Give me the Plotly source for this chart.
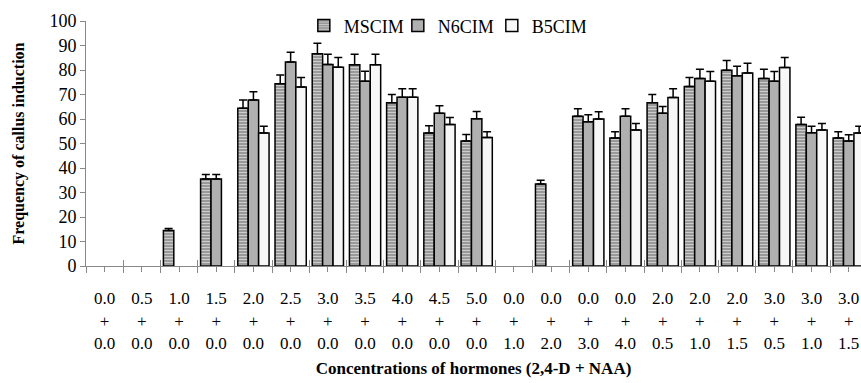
import plotly.graph_objects as go

categories = ["0.0<br>+<br>0.0", "0.5<br>+<br>0.0", "1.0<br>+<br>0.0", "1.5<br>+<br>0.0",
              "2.0<br>+<br>0.0", "2.5<br>+<br>0.0", "3.0<br>+<br>0.0", "3.5<br>+<br>0.0",
              "4.0<br>+<br>0.0", "4.5<br>+<br>0.0", "5.0<br>+<br>0.0", "0.0<br>+<br>1.0",
              "0.0<br>+<br>2.0", "0.0<br>+<br>3.0", "0.0<br>+<br>4.0", "2.0<br>+<br>0.5",
              "2.0<br>+<br>1.0", "2.0<br>+<br>1.5", "3.0<br>+<br>0.5", "3.0<br>+<br>1.0",
              "3.0<br>+<br>1.5"]

mscim = [0, 0, 14.5, 35.5, 64.4, 74.4, 86.6, 82.1, 66.6, 54.3, 51.0, 0, 33.5,
         61.1, 52.2, 66.6, 73.3, 79.9, 76.5, 57.8, 52.2]
mscim_err = [0, 0, 0.8, 1.8, 3.4, 3.6, 4.3, 4.3, 3.4, 2.9, 2.7, 0, 1.5,
             3.1, 2.6, 3.4, 3.6, 4.0, 3.8, 2.9, 2.6]
n6cim = [0, 0, 0, 35.5, 67.8, 83.3, 82.2, 75.4, 68.9, 62.3, 60.1, 0, 0,
         58.9, 61.1, 62.3, 76.5, 77.7, 75.4, 54.4, 51.0]
n6cim_err = [0, 0, 0, 1.8, 3.3, 3.9, 4.2, 4.1, 3.4, 3.1, 3.0, 0, 0,
             2.8, 3.1, 2.8, 3.8, 3.8, 4.0, 2.6, 2.6]
b5cim = [0, 0, 0, 0, 54.3, 73.1, 81.1, 82.1, 68.9, 57.8, 52.4, 0, 0,
         60.0, 55.5, 68.8, 75.4, 78.8, 81.0, 55.5, 54.3]
b5cim_err = [0, 0, 0, 0, 2.7, 3.8, 4.0, 4.3, 3.4, 2.8, 2.4, 0, 0,
             3.0, 2.7, 3.5, 4.0, 4.0, 4.1, 2.7, 2.7]

xs = list(range(len(categories)))
boundaries = [i - 0.5 for i in range(len(categories) + 1)]
FONT = "Liberation Serif"
XMAX = 20.33

def shown(vals):
    # zero-valued bars are not drawn in the reference (no outline on the axis)
    return [v if v > 0 else None for v in vals]

def err(vals, e):
    arr = [ev if v > 0 else None for v, ev in zip(vals, e)]
    return dict(type="data", symmetric=False, array=arr, arrayminus=[0] * len(e),
                color="black", thickness=1.5, width=4)

OUTLINE = dict(color="black", width=1.5)

fig = go.Figure()
fig.add_trace(go.Bar(name="MSCIM", x=xs, y=shown(mscim), error_y=err(mscim, mscim_err),
                     marker=dict(color="#a0a0a0", line=OUTLINE,
                                 pattern=dict(shape="-", fgcolor="white", bgcolor="#999999",
                                              size=3, solidity=0.35))))
fig.add_trace(go.Bar(name="N6CIM", x=xs, y=shown(n6cim), error_y=err(n6cim, n6cim_err),
                     marker=dict(color="#b0b0b0", line=OUTLINE)))
fig.add_trace(go.Bar(name="B5CIM", x=xs, y=shown(b5cim), error_y=err(b5cim, b5cim_err),
                     marker=dict(color="#f7f7f7", line=OUTLINE)))
# invisible trace to carry the crossing boundary ticks
fig.add_trace(go.Scatter(x=[0], y=[0], xaxis="x2", mode="markers",
                         marker=dict(opacity=0), showlegend=False, hoverinfo="skip"))

fig.update_layout(
    width=861, height=383,
    margin=dict(l=86, r=0, t=21, b=117),
    paper_bgcolor="white", plot_bgcolor="white",
    barmode="group", bargap=0.16, bargroupgap=0,
    font=dict(family=FONT, color="black", size=17),
    showlegend=True,
    legend=dict(orientation="h", x=0.463, xanchor="center", y=0.98, yanchor="middle",
                font=dict(size=18, family=FONT), bgcolor="rgba(0,0,0,0)",
                itemwidth=30, entrywidth=49, entrywidthmode="pixels", tracegroupgap=0),
    xaxis=dict(range=[-0.5, XMAX], tickmode="array", tickvals=xs, ticktext=categories,
               automargin=False,
               ticks="outside", ticklen=5, tickcolor="#888", tickwidth=1,
               showline=True, linecolor="#888", linewidth=1, showgrid=False, zeroline=False,
               ticklabelstandoff=12, tickfont=dict(size=17, family=FONT, color="black"),
               minor=dict(tickmode="array", tickvals=boundaries, ticks="outside",
                          ticklen=6, tickcolor="#888", tickwidth=1, showgrid=False),
               title=dict(text="<b>Concentrations of hormones (2,4-D + NAA)</b>",
                          font=dict(size=17, family=FONT), standoff=10)),
    xaxis2=dict(overlaying="x", anchor="y", side="bottom", range=[-0.5, XMAX],
                automargin=False,
                tickmode="array", tickvals=boundaries, ticks="inside", ticklen=6,
                tickcolor="#888", tickwidth=1, showticklabels=False, showgrid=False,
                zeroline=False, showline=False),
    yaxis=dict(range=[0, 100], dtick=10, ticks="outside", ticklen=5, tickcolor="#888",
               automargin=False,
               showline=True, linecolor="#888", linewidth=1, showgrid=False, zeroline=False,
               tickfont=dict(size=18, family=FONT),
               title=dict(text="<b>Frequency of callus induction</b>",
                          font=dict(size=16, family=FONT), standoff=20)),
)

fig.write_html("out.html", config={"displayModeBar": False},
               post_script="document.body.style.margin='0';")
